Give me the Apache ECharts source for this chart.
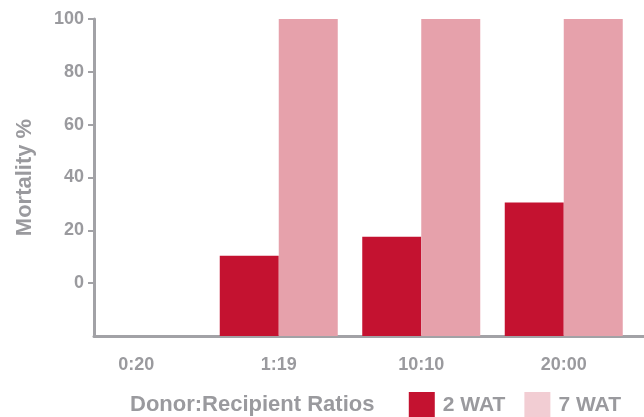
<!DOCTYPE html>
<html>
<head>
<meta charset="utf-8">
<script src="https://cdn.jsdelivr.net/npm/echarts@6/dist/echarts.min.js"></script>
<style>
  html, body { margin: 0; padding: 0; background: #fff; }
  #main { width: 644px; height: 417px; }
</style>
</head>
<body>
<div id="main"></div>
<script>
var ratios = ['0:20', '1:19', '10:10', '20:00']
var wat2 = [0, 10.4, 17.6, 30.5]
var wat7 = [0, 100, 100, 100]
var yTicks = [-20, 0, 20, 40, 60, 80, 100]

var gray = '#9a9a9e'
var lineGray = '#a2a2a6'
var font = 'Liberation Sans'

// bars rise from the axis floor (-20), zero rows draw nothing
function lift(v) {
  return v === 0 ? null : v - yTicks[0]
}

var chart = echarts.init(document.getElementById('main'))

var option = {
  animation: false,
  grid: [
    // bars + category labels
    { left: 65, right: 9, top: 19, bottom: 81 },
    // x axis line, y labels + title
    { left: 94, right: 0, top: 19, bottom: 81 },
    // y axis line: a right-side axis whose grid ends at x=94
    { left: 0, right: 550, top: 19, bottom: 81 }
  ],
  legend: {
    data: [
      { name: '2 WAT', icon: 'rect' },
      { name: '7 WAT', icon: 'rect', itemStyle: { color: '#f2cdd3' } }
    ],
    right: 18,
    bottom: -6,
    itemWidth: 26,
    itemHeight: 26,
    itemGap: 19,
    textStyle: { color: gray, fontFamily: font, fontWeight: 'bold', fontSize: 21, padding: [0, 0, 0, 3] }
  },
  xAxis: [
    {
      gridIndex: 0,
      type: 'category',
      data: ratios,
      axisLine: { show: false },
      axisTick: { show: false },
      axisLabel: { color: gray, fontFamily: font, fontWeight: 'bold', fontSize: 18, margin: 20 }
    },
    {
      gridIndex: 1,
      type: 'category',
      data: ratios,
      axisLine: { onZero: false, lineStyle: { color: lineGray, width: 3 } },
      axisTick: { show: false },
      axisLabel: { show: false },
      name: 'Donor:Recipient Ratios',
      nameLocation: 'start',
      nameGap: 0,
      nameTextStyle: {
        color: gray, fontFamily: font, fontWeight: 'bold', fontSize: 22,
        align: 'left', verticalAlign: 'top', padding: [58, 0, 0, 36]
      }
    },
    {
      gridIndex: 2,
      type: 'category',
      data: ratios,
      show: false
    }
  ],
  yAxis: [
    {
      gridIndex: 0,
      type: 'value',
      min: 0,
      max: yTicks[yTicks.length - 1] - yTicks[0],
      show: false
    },
    {
      // labels and title
      gridIndex: 1,
      type: 'value',
      position: 'left',
      min: yTicks[0],
      max: yTicks[yTicks.length - 1],
      interval: 20,
      splitLine: { show: false },
      axisLine: { show: false },
      axisTick: { show: false },
      axisLabel: {
        color: gray, fontFamily: font, fontWeight: 'bold', fontSize: 18, margin: 10,
        formatter: function (v) { return v < 0 ? '' : String(v) }
      },
      name: 'Mortality %',
      nameLocation: 'middle',
      nameGap: 58,
      nameTextStyle: { color: gray, fontFamily: font, fontWeight: 'bold', fontSize: 22 }
    },
    {
      // the vertical axis line with ticks pointing left
      gridIndex: 2,
      type: 'value',
      position: 'right',
      min: yTicks[0],
      max: yTicks[yTicks.length - 1],
      interval: 20,
      splitLine: { show: false },
      axisLine: { show: true, onZero: false, lineStyle: { color: lineGray, width: 3 } },
      axisTick: {
        show: true, inside: true, length: 6,
        customValues: yTicks.slice(1),
        lineStyle: { color: lineGray, width: 2 }
      },
      axisLabel: { show: false }
    }
  ],
  series: [
    {
      name: '2 WAT',
      type: 'bar',
      xAxisIndex: 0,
      yAxisIndex: 0,
      data: wat2.map(lift),
      barWidth: 59,
      barGap: '0%',
      itemStyle: { color: '#c41230' }
    },
    {
      name: '7 WAT',
      type: 'bar',
      xAxisIndex: 0,
      yAxisIndex: 0,
      data: wat7.map(lift),
      barWidth: 59,
      barGap: '0%',
      itemStyle: { color: '#e6a1ab' }
    }
  ]
}

chart.setOption(option)
</script>
</body>
</html>
